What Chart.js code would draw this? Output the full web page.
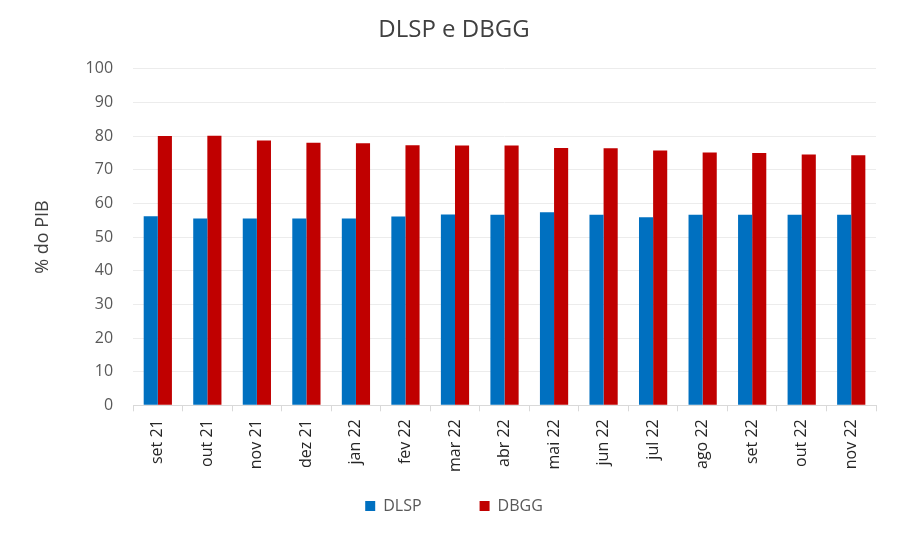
<!DOCTYPE html>
<html>
<head>
<meta charset="utf-8">
<script src="https://cdn.jsdelivr.net/npm/chart.js@4"></script>
<style>
  html, body { margin: 0; padding: 0; background: #fff; }
  #wrap { width: 911px; height: 557px; }
</style>
</head>
<body>
<div id="wrap"><canvas id="myChart" width="911" height="557"></canvas></div>
<script>
const labels = ['set 21', 'out 21', 'nov 21', 'dez 21', 'jan 22', 'fev 22', 'mar 22', 'abr 22',
                'mai 22', 'jun 22', 'jul 22', 'ago 22', 'set 22', 'out 22', 'nov 22'];
const dlsp = [56.2, 55.5, 55.5, 55.5, 55.5, 56.1, 56.7, 56.6, 57.4, 56.6, 55.9, 56.6, 56.6, 56.6, 56.6];
const dbgg = [80.0, 80.1, 78.7, 78.0, 77.9, 77.3, 77.2, 77.2, 76.5, 76.4, 75.7, 75.1, 75.0, 74.5, 74.3];

const font = 'Open Sans, Liberation Sans, sans-serif';

const ctx = document.getElementById('myChart').getContext('2d');

const myChart = new Chart(ctx, {
    type: 'bar',
    data: {
        labels: labels,
        datasets: [{
            label: 'DLSP',
            data: dlsp,
            backgroundColor: '#0070c0',
            categoryPercentage: 0.57,
            barPercentage: 1.0
        }, {
            label: 'DBGG',
            data: dbgg,
            backgroundColor: '#c00000',
            categoryPercentage: 0.57,
            barPercentage: 1.0
        }]
    },
    options: {
        responsive: false,
        animation: false,
        layout: { padding: { left: 32, right: 35, top: 0, bottom: 33 } },
        plugins: {
            title: {
                display: true,
                text: 'DLSP e DBGG',
                color: '#404040',
                font: { family: font, size: 24, weight: 'normal' },
                padding: { top: 16, bottom: 24 }
            },
            legend: {
                position: 'bottom',
                labels: {
                    color: '#595959',
                    font: { family: font, size: 16 },
                    boxWidth: 10,
                    boxHeight: 10,
                    padding: 18,
                    // wider gap between the two entries than between rows
                    generateLabels: function(chart) {
                        const items = Chart.defaults.plugins.legend.labels.generateLabels(chart);
                        items.forEach((it, i) => {
                            if (i < items.length - 1) it.text += '\u2003\u2003\u2002';
                        });
                        return items;
                    }
                }
            },
            tooltip: { enabled: false }
        },
        scales: {
            x: {
                grid: {
                    display: true,
                    drawOnChartArea: false,
                    drawTicks: true,
                    tickLength: 6,
                    color: '#d9d9d9',
                    offset: true
                },
                border: { color: '#d9d9d9' },
                ticks: {
                    color: '#262626',
                    padding: 8,
                    font: { family: font, size: 16 },
                    minRotation: 90,
                    maxRotation: 90
                }
            },
            y: {
                min: 0,
                max: 100,
                grid: { color: '#ececec', drawTicks: false },
                border: { display: false },
                ticks: {
                    stepSize: 10,
                    padding: 20,
                    color: '#595959',
                    font: { family: font, size: 16 }
                },
                title: {
                    display: true,
                    text: '% do PIB',
                    color: '#404040',
                    font: { family: font, size: 18 },
                    padding: { top: 0, bottom: 12 }
                }
            }
        }
    }
});
</script>
</body>
</html>
